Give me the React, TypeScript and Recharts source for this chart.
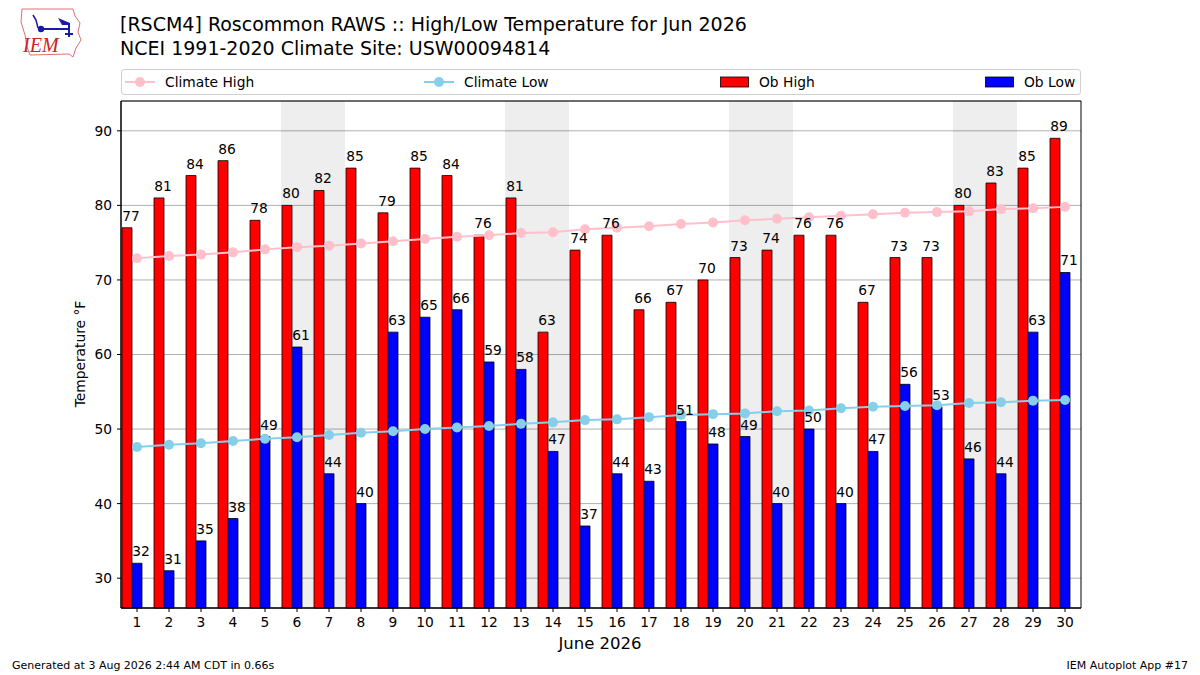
import {
  Bar,
  ComposedChart,
  LabelList,
  Line,
  ReferenceArea,
  XAxis,
  YAxis,
  CartesianGrid,
} from 'recharts'

const days = [
  1, 2, 3, 4, 5, 6, 7, 8, 9, 10, 11, 12, 13, 14, 15, 16, 17, 18, 19, 20, 21, 22,
  23, 24, 25, 26, 27, 28, 29, 30,
]
const obHigh = [
  77, 81, 84, 86, 78, 80, 82, 85, 79, 85, 84, 76, 81, 63, 74, 76, 66, 67, 70, 73,
  74, 76, 76, 67, 73, 73, 80, 83, 85, 89,
]
const obLow = [
  32, 31, 35, 38, 49, 61, 44, 40, 63, 65, 66, 59, 58, 47, 37, 44, 43, 51, 48, 49,
  40, 50, 40, 47, 56, 53, 46, 44, 63, 71,
]
const climHigh = [
  72.9, 73.2, 73.4, 73.7, 74.1, 74.4, 74.6, 74.9, 75.2, 75.5, 75.8, 76.0, 76.3,
  76.4, 76.8, 77.0, 77.2, 77.5, 77.7, 78.0, 78.2, 78.4, 78.6, 78.8, 79.0, 79.1,
  79.2, 79.5, 79.6, 79.8,
]
const climLow = [
  47.6, 47.9, 48.1, 48.4, 48.7, 48.9, 49.2, 49.5, 49.7, 50.0, 50.2, 50.4, 50.7,
  50.9, 51.2, 51.3, 51.6, 51.9, 52.0, 52.1, 52.4, 52.5, 52.8, 53.0, 53.1, 53.2,
  53.5, 53.6, 53.8, 53.9,
]
// Saturday/Sunday pairs for June 2026
const weekends: [number, number][] = [
  [6, 7],
  [13, 14],
  [20, 21],
  [27, 28],
]
const yTicks = [30, 40, 50, 60, 70, 80, 90]

const FONT = '"DejaVu Sans", Verdana, sans-serif'

const data = days.map((d, i) => ({
  day: d,
  obHigh: obHigh[i],
  obLow: obLow[i],
  climHigh: climHigh[i],
  climLow: climLow[i],
}))

// matplotlib puts the value text a few px right of the bar centre
function barLabel(props: any) {
  const vb = props.viewBox ?? props
  const x = (vb.x ?? props.x) + (vb.width ?? props.width) / 2 + 4
  const y = (vb.y ?? props.y) - 7
  return (
    <text
      x={x}
      y={y}
      textAnchor="middle"
      fontSize={13.8}
      fontFamily={FONT}
      fill="#000"
    >
      {props.value}
    </text>
  )
}

function Logo() {
  return (
    <svg
      width={80}
      height={60}
      style={{ position: 'absolute', left: 10, top: 4 }}
    >
      <path
        d="M12 5 L63 5 L65 12 L70 19 L68 28 L71 36 L66 44 L63 53 L59 50 L20 51 L17 43 L15 31 L11 18 Z"
        fill="none"
        stroke="#e07070"
        strokeWidth={1}
      />
      <path d="M23 11 L26 16 L28 24" fill="none" stroke="#1a1aaa" strokeWidth={1.5} />
      <path d="M28 25 L58 25" fill="none" stroke="#1a1aaa" strokeWidth={2} />
      <circle cx={31} cy={25} r={3.2} fill="#1a1aaa" />
      <path d="M48 14 L60 19 L60 21 L52 21 Z" fill="#1a1aaa" />
      <path d="M59 21 L59 33 M55 30 L63 30" fill="none" stroke="#1a1aaa" strokeWidth={2} />
      <text
        x={13}
        y={48}
        fontFamily='"Liberation Serif", serif'
        fontStyle="italic"
        fontSize={20}
        fill="#cc2222"
      >
        IEM
      </text>
    </svg>
  )
}

function Legend() {
  const item = (left: number, marker: React.ReactNode, label: string) => (
    <div
      style={{
        position: 'absolute',
        left,
        top: 0,
        height: 23,
        display: 'flex',
        alignItems: 'center',
      }}
    >
      {marker}
      <span style={{ marginLeft: 10 }}>{label}</span>
    </div>
  )
  const lineMarker = (color: string) => (
    <svg width={30} height={12}>
      <line x1={0} y1={6} x2={30} y2={6} stroke={color} strokeWidth={2} />
      <circle cx={15} cy={6} r={5} fill={color} />
    </svg>
  )
  const rectMarker = (color: string) => (
    <svg width={29} height={12}>
      <rect x={0.5} y={1} width={28} height={10} fill={color} stroke="#000" strokeWidth={0.8} />
    </svg>
  )
  return (
    <div
      style={{
        position: 'absolute',
        left: 121,
        top: 69,
        width: 958,
        height: 24,
        border: '1px solid #d0d0d0',
        borderRadius: 3,
        fontFamily: FONT,
        fontSize: 13.8,
        color: '#000',
        background: '#fff',
        zIndex: 2,
      }}
    >
      {item(3, lineMarker('#ffc0cb'), 'Climate High')}
      {item(302, lineMarker('#87ceeb'), 'Climate Low')}
      {item(598, rectMarker('#ff0000'), 'Ob High')}
      {item(863, rectMarker('#0000ff'), 'Ob Low')}
    </div>
  )
}

export default function App() {
  return (
    <div
      style={{
        position: 'absolute',
        left: 0,
        top: 0,
        width: 1200,
        height: 675,
        background: '#fff',
        fontFamily: FONT,
        overflow: 'hidden',
      }}
    >
      <Logo />
      <div
        style={{
          position: 'absolute',
          left: 120,
          top: 12,
          fontSize: 19,
          lineHeight: '24px',
          color: '#000',
        }}
      >
        [RSCM4] Roscommon RAWS :: High/Low Temperature for Jun 2026
        <br />
        NCEI 1991-2020 Climate Site: USW00094814
      </div>
      <Legend />
      <div style={{ position: 'absolute', left: 0, top: 0 }}>
        <ComposedChart
          width={1200}
          height={675}
          data={data}
          margin={{ top: 101, right: 119, bottom: 37, left: 0 }}
          barGap={0}
          barCategoryGap={1}
        >
          <CartesianGrid vertical={false} stroke="#b0b0b0" strokeWidth={1} />
          {weekends.map(([a, b]) => (
            <ReferenceArea
              key={a}
              x1={a}
              x2={b}
              y1={26}
              y2={94}
              fill="#000"
              fillOpacity={0.067}
              stroke="none"
              ifOverflow="visible"
            />
          ))}
          <XAxis
            dataKey="day"
            type="category"
            height={30}
            interval={0}
            tickSize={4}
            tickMargin={5}
            stroke="#000"
            tick={{ fill: '#000', fontSize: 13.8, fontFamily: FONT }}
          />
          <YAxis
            type="number"
            domain={[26, 94]}
            ticks={yTicks}
            width={121}
            tickSize={4}
            tickMargin={5}
            stroke="#000"
            tick={{ fill: '#000', fontSize: 13.8, fontFamily: FONT }}
          />
          <Bar
            dataKey="obHigh"
            fill="#ff0000"
            stroke="#000"
            strokeWidth={0.8}
            isAnimationActive={false}
          >
            <LabelList dataKey="obHigh" content={barLabel} />
          </Bar>
          <Bar
            dataKey="obLow"
            fill="#0000ff"
            stroke="#000"
            strokeWidth={0.8}
            isAnimationActive={false}
          >
            <LabelList dataKey="obLow" content={barLabel} />
          </Bar>
          {/* empty slot so the pair sits left of the day tick like the original */}
          <Bar dataKey="obLow" fill="none" stroke="none" isAnimationActive={false} />
          <Line
            type="linear"
            dataKey="climHigh"
            stroke="#ffc0cb"
            strokeWidth={2}
            dot={{ r: 5, fill: '#ffc0cb', stroke: '#ffc0cb', strokeWidth: 0 }}
            activeDot={false}
            isAnimationActive={false}
          />
          <Line
            type="linear"
            dataKey="climLow"
            stroke="#87ceeb"
            strokeWidth={2}
            dot={{ r: 5, fill: '#87ceeb', stroke: '#87ceeb', strokeWidth: 0 }}
            activeDot={false}
            isAnimationActive={false}
          />
          <ReferenceArea
            x1={1}
            x2={30}
            y1={26}
            y2={94}
            fill="none"
            stroke="#000"
            strokeWidth={1}
            ifOverflow="visible"
          />
        </ComposedChart>
      </div>
      <div
        style={{
          position: 'absolute',
          left: 80,
          top: 354,
          transform: 'translate(-50%, -50%) rotate(-90deg)',
          fontSize: 13.8,
          whiteSpace: 'nowrap',
          color: '#000',
        }}
      >
        Temperature °F
      </div>
      <div
        style={{
          position: 'absolute',
          left: 600,
          top: 643,
          transform: 'translate(-50%, -50%)',
          fontSize: 16.5,
          color: '#000',
        }}
      >
        June 2026
      </div>
      <div
        style={{
          position: 'absolute',
          left: 12,
          top: 659,
          fontSize: 11,
          color: '#000',
        }}
      >
        Generated at 3 Aug 2026 2:44 AM CDT in 0.66s
      </div>
      <div
        style={{
          position: 'absolute',
          right: 12,
          top: 659,
          fontSize: 11,
          color: '#000',
        }}
      >
        IEM Autoplot App #17
      </div>
    </div>
  )
}
